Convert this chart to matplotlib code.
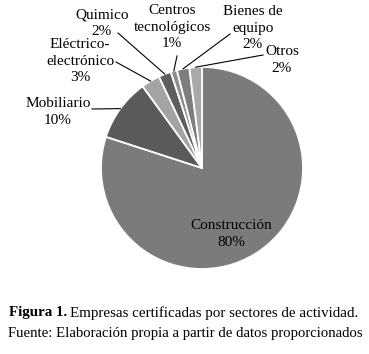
import numpy as np
import matplotlib
matplotlib.use("Agg")
import matplotlib.pyplot as plt

# %% Data
sectores = ["Construcción", "Mobiliario", "Eléctrico-\nelectrónico", "Quimico",
            "Centros\ntecnológicos", "Bienes de\nequipo", "Otros"]
porcentajes = [80, 10, 3, 2, 1, 2, 2]
colores = ["#7b7b7b", "#5a5a5a", "#a3a3a3", "#5e5e5e", "#8e8e8e", "#7e7e7e", "#a9a9a9"]

# label text centre and leader start, in pixels of the 369x354 image (y from top)
label_pos = [(231, 234), (58, 112), (80, 61), (102, 23), (172, 27), (253, 28), (282, 60)]
leader_start = [None, (92, 109), (116, 62), (118, 33), (177, 56), (230, 34), (263, 55)]

plt.rcParams["font.family"] = ["Liberation Serif", "DejaVu Serif"]

W, H = 369, 354
fig = plt.figure(figsize=(W / 100, H / 100), dpi=100)
cx, cy, R = 202, 168, 101
ax = fig.add_axes([(cx - R) / W, (H - cy - R) / H, 2 * R / W, 2 * R / H])

wedges, _ = ax.pie(porcentajes, colors=colores, startangle=90, counterclock=False,
                   wedgeprops=dict(edgecolor="white", linewidth=1.3))
ax.set_xlim(-1, 1)
ax.set_ylim(-1, 1)
ax.axis("off")


def px2data(p):
    return ((p[0] - cx) / R, (cy - p[1]) / R)


for i, w in enumerate(wedges):
    txt = f"{sectores[i]}\n{porcentajes[i]}%"
    tx, ty = px2data(label_pos[i])
    ax.text(tx, ty, txt, ha="center", va="center", fontsize=11,
            linespacing=1.32, clip_on=False)
    if leader_start[i] is None:
        continue
    ang = np.deg2rad((w.theta1 + w.theta2) / 2)
    end = (1.0 * np.cos(ang), 1.0 * np.sin(ang))
    sx, sy = px2data(leader_start[i])
    ax.plot([sx, end[0]], [sy, end[1]], color="black", lw=0.8, clip_on=False)

# %% Caption
fig.canvas.draw()
r = fig.canvas.get_renderer()
t1 = fig.text(9 / W, 0.116, "Figura 1.", fontsize=10.8, fontweight="bold", va="center")
bb = t1.get_window_extent(renderer=r)
fig.text((bb.x1 + 3) / W, 0.116, "Empresas certificadas por sectores de actividad.",
         fontsize=10.8, va="center")
fig.text(8 / W, 0.059, "Fuente: Elaboración propia a partir de datos proporcionados",
         fontsize=10.6, va="center")

fig.savefig("out.png", dpi=100)
